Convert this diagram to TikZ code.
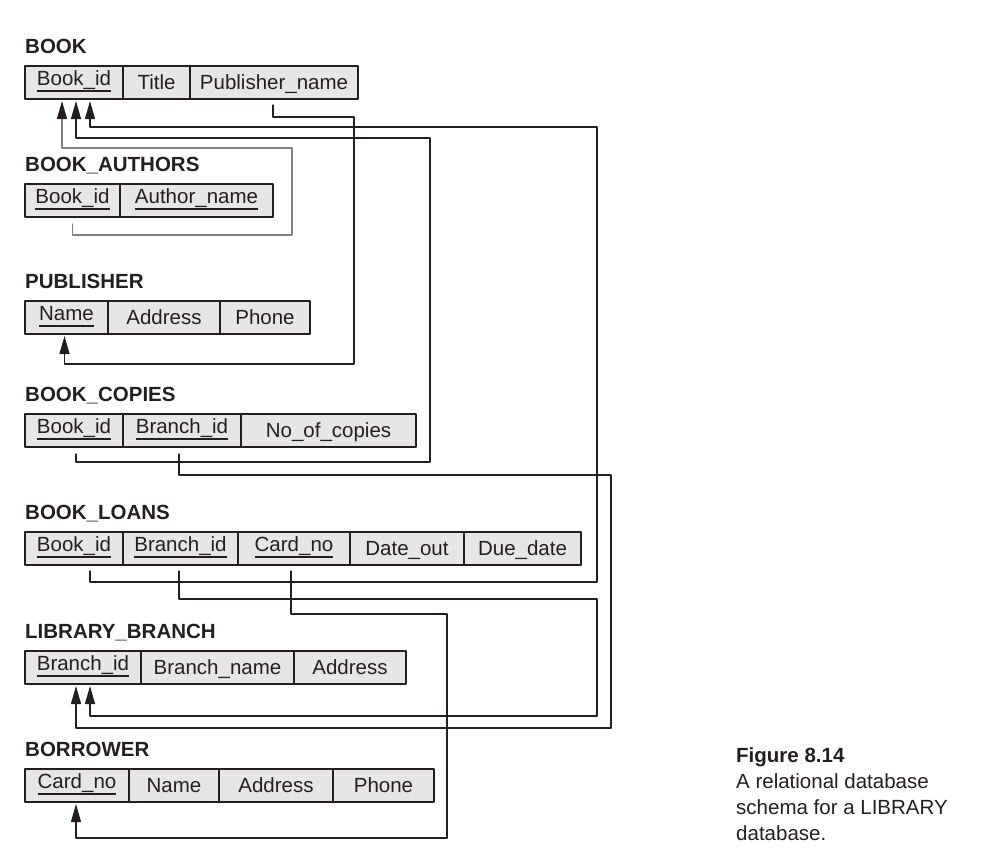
\documentclass[tikz,border=0pt]{standalone}
\usepackage{fontspec}
\setmainfont{Liberation Sans}
\usetikzlibrary{arrows.meta,positioning}
\definecolor{cellgray}{HTML}{E6E6E6}
\definecolor{linkgray}{HTML}{808080}
\definecolor{ink}{HTML}{231F20}
% khoa chinh: chu nang len, gach duoi
\newcommand{\keyattr}[1]{\setbox0\hbox{#1}\raisebox{4pt}{\rlap{\rule[-6pt]{\wd0}{1.1pt}}\box0}}
\begin{document}
\begin{tikzpicture}[x=1pt,y=-1pt,line cap=round,line join=round,>={Triangle[length=18pt,width=10pt]},
    font=\fontsize{20.5}{24}\selectfont,color=ink,
    cell/.style={draw,fill=cellgray,line width=1.1pt,inner sep=0pt,outer sep=0pt,minimum height=33pt,text height=16pt,text depth=2pt},
    relname/.style={anchor=base west,inner sep=0pt,font=\fontsize{20.5}{24}\selectfont\bfseries},
    fk/.style={->,line width=1.1pt,shorten >=2pt}]
    \useasboundingbox (0,0) rectangle (987,862);
    % BOOK
    \node[cell,minimum width=98pt,anchor=north west] (b-id) at (25,66) {\keyattr{Book\_id}};
    \node[cell,minimum width=67pt,right=0pt of b-id] (b-title) {Title};
    \node[cell,minimum width=168pt,right=0pt of b-title] (b-pub) {Publisher\_name};
    \node[relname] (b-name) at ([yshift=13pt]b-id.north west) {BOOK};
    % BOOK_AUTHORS
    \node[cell,minimum width=95pt,anchor=north west] (ba-id) at (25,184) {\keyattr{Book\_id}};
    \node[cell,minimum width=153pt,right=0pt of ba-id] (ba-author) {\keyattr{Author\_name}};
    \node[relname] (ba-name) at ([yshift=13pt]ba-id.north west) {BOOK\_AUTHORS};
    % PUBLISHER
    \node[cell,minimum width=83pt,anchor=north west] (p-name) at (25,301) {\keyattr{Name}};
    \node[cell,minimum width=112pt,right=0pt of p-name] (p-addr) {Address};
    \node[cell,minimum width=90pt,right=0pt of p-addr] (p-phone) {Phone};
    \node[relname] (p-title) at ([yshift=13pt]p-name.north west) {PUBLISHER};
    % BOOK_COPIES
    \node[cell,minimum width=98pt,anchor=north west] (bc-id) at (25,414) {\keyattr{Book\_id}};
    \node[cell,minimum width=118pt,right=0pt of bc-id] (bc-br) {\keyattr{Branch\_id}};
    \node[cell,minimum width=175pt,right=0pt of bc-br] (bc-no) {No\_of\_copies\hspace{13pt}};
    \node[relname] (bc-name) at ([yshift=13pt]bc-id.north west) {BOOK\_COPIES};
    % BOOK_LOANS
    \node[cell,minimum width=98pt,anchor=north west] (bl-id) at (25,532) {\keyattr{Book\_id}};
    \node[cell,minimum width=115pt,right=0pt of bl-id] (bl-br) {\keyattr{Branch\_id}};
    \node[cell,minimum width=112pt,right=0pt of bl-br] (bl-card) {\keyattr{Card\_no}};
    \node[cell,minimum width=114pt,right=0pt of bl-card] (bl-out) {Date\_out};
    \node[cell,minimum width=117pt,right=0pt of bl-out] (bl-due) {Due\_date};
    \node[relname] (bl-name) at ([yshift=13pt]bl-id.north west) {BOOK\_LOANS};
    % LIBRARY_BRANCH
    \node[cell,minimum width=116pt,anchor=north west] (lb-br) at (25,651) {\keyattr{Branch\_id}};
    \node[cell,minimum width=153pt,right=0pt of lb-br] (lb-bname) {Branch\_name};
    \node[cell,minimum width=112pt,right=0pt of lb-bname] (lb-addr) {Address};
    \node[relname] (lb-name) at ([yshift=13pt]lb-br.north west) {LIBRARY\_BRANCH};
    % BORROWER
    \node[cell,minimum width=104pt,anchor=north west] (bo-card) at (25,769) {\keyattr{Card\_no}};
    \node[cell,minimum width=90pt,right=0pt of bo-card] (bo-nm) {Name};
    \node[cell,minimum width=114pt,right=0pt of bo-nm] (bo-addr) {Address};
    \node[cell,minimum width=101pt,right=0pt of bo-addr] (bo-phone) {Phone};
    \node[relname] (bo-name) at ([yshift=13pt]bo-card.north west) {BORROWER};
    % khoa ngoai
    \draw[fk,draw=linkgray,-{Triangle[length=18pt,width=10pt,ink]}] ([yshift=-7pt]ba-id.south) -- ++(0,11) -| (292,148) -| ([xshift=-12pt]b-id.south);
    \draw[fk] ([xshift=2pt,yshift=-7pt]bc-id.south) -- ++(0,8) -| (430,138) -| ([xshift=2pt]b-id.south);
    \draw[fk] ([xshift=16pt,yshift=-6pt]bl-id.south) -- ++(0,11) -| (597,127) -| ([xshift=16pt]b-id.south);
    \draw[fk] ([xshift=-1pt,yshift=-6pt]b-pub.south) -- ++(0,12) -| (354,364) -| ([xshift=-2pt]p-name.south);
    \draw[fk] ([xshift=-3pt,yshift=-7pt]bc-br.south) -- ++(0,21) -| (611,728) -| ([xshift=-7pt]lb-br.south);
    \draw[fk] ([xshift=-1.5pt,yshift=-6pt]bl-br.south) -- ++(0,28) -| (597,716) -| ([xshift=7pt]lb-br.south);
    \draw[fk] ([xshift=-3pt,yshift=-6pt]bl-card.south) -- ++(0,43) -| (447,838) -| ([xshift=-1pt]bo-card.south);
    % chu thich
    \node[anchor=north west,align=left,inner sep=0pt,font=\fontsize{20.5}{26}\selectfont] (cap) at (736,747) {\textbf{Figure 8.14}\\A relational database\\schema for a LIBRARY\\database.};
\end{tikzpicture}
\end{document}
